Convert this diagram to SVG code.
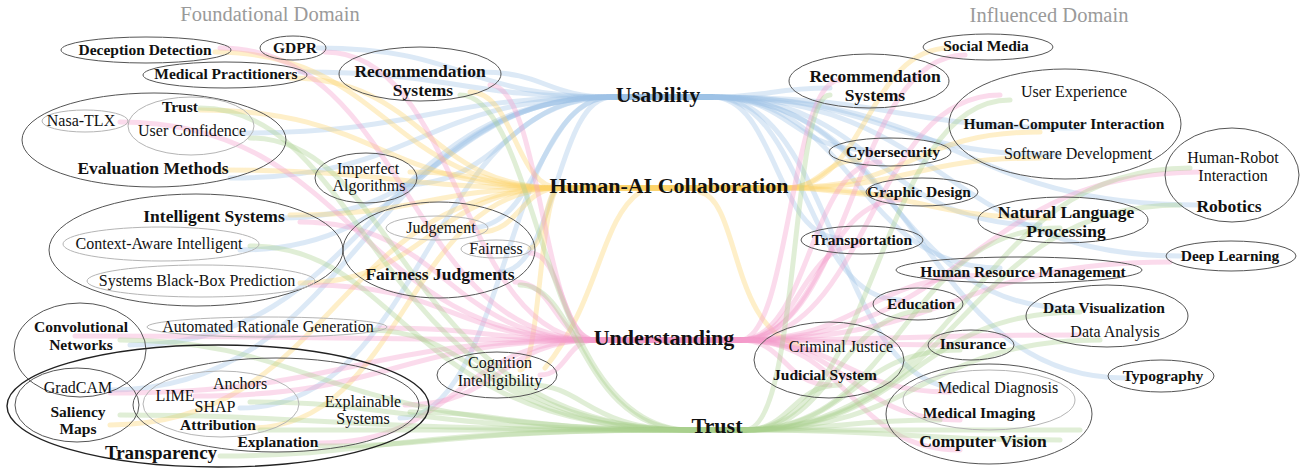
<svg xmlns="http://www.w3.org/2000/svg" width="1301" height="470" viewBox="0 0 1301 470">
<style>
text{font-family:"Liberation Serif",serif;fill:#111;text-anchor:middle}
.b{font-weight:bold;font-size:15.5px}
.r{font-size:16px}
.g{font-weight:bold;font-size:17.5px}
.c{font-weight:bold;font-size:22px}
.ttl{font-size:20.5px;fill:#9a9a9a}
.e{fill:none;stroke:#555;stroke-width:1}
.i{fill:none;stroke:#b5b5b5;stroke-width:1}
#connectors path{fill:none;stroke-width:5;stroke-linecap:round;opacity:.36}
.u{stroke:#9ec3e6}
.h{stroke:#fcd26a}
.n{stroke:#f59acb}
.t{stroke:#a9d18e}
</style>
<rect width="1301" height="470" fill="#fff"/>
<g id="connectors">
<path class="u" d="M318 48C465 48 465 97 612 97H712"/>
<path class="u" d="M300 72C456 72 456 97 612 97H712"/>
<path class="u" d="M480 72C546 72 546 97 612 97H712"/>
<path class="u" d="M240 133C426 133 426 97 612 97H712"/>
<path class="u" d="M230 178C421 178 421 97 612 97H712"/>
<path class="u" d="M400 185C506 185 506 97 612 97H712"/>
<path class="u" d="M280 218C446 218 446 97 612 97H712"/>
<path class="u" d="M240 250C426 250 426 97 612 97H712"/>
<path class="u" d="M470 228C541 228 541 97 612 97H712"/>
<path class="u" d="M500 272C556 272 556 97 612 97H712"/>
<path class="u" d="M130 345C371 345 371 97 612 97H712"/>
<path class="u" d="M110 390C361 390 361 97 612 97H712"/>
<path class="u" d="M240 408C426 408 426 97 612 97H712"/>
<path class="u" d="M400 418C506 418 506 97 612 97H712"/>
<path class="u" d="M662 97H712C771 97 771 88 830 88"/>
<path class="u" d="M662 97H712C896 97 896 128 1080 128"/>
<path class="u" d="M662 97H712C886 97 886 155 1060 155"/>
<path class="u" d="M662 97H712C791 97 791 150 870 150"/>
<path class="u" d="M662 97H712C956 97 956 205 1200 205"/>
<path class="u" d="M662 97H712C876 97 876 225 1040 225"/>
<path class="u" d="M662 97H712C776 97 776 238 840 238"/>
<path class="u" d="M662 97H712C946 97 946 256 1180 256"/>
<path class="u" d="M662 97H712C856 97 856 268 1000 268"/>
<path class="u" d="M662 97H712C806 97 806 300 900 300"/>
<path class="u" d="M662 97H712C891 97 891 308 1070 308"/>
<path class="u" d="M662 97H712C918 97 918 378 1125 378"/>
<path class="u" d="M662 97H712C836 97 836 388 960 388"/>
<path class="h" d="M215 52C387 52 387 188 560 188H785"/>
<path class="h" d="M290 78C425 78 425 188 560 188H785"/>
<path class="h" d="M470 92C515 92 515 188 560 188H785"/>
<path class="h" d="M200 110C380 110 380 188 560 188H785"/>
<path class="h" d="M220 170C390 170 390 188 560 188H785"/>
<path class="h" d="M410 172C485 172 485 188 560 188H785"/>
<path class="h" d="M290 215C425 215 425 188 560 188H785"/>
<path class="h" d="M300 283C430 283 430 188 560 188H785"/>
<path class="h" d="M480 232C520 232 520 188 560 188H785"/>
<path class="h" d="M530 248C545 248 545 188 560 188H785"/>
<path class="h" d="M520 370C540 370 540 188 560 188H785"/>
<path class="h" d="M110 425C335 425 335 188 560 188H785"/>
<path class="h" d="M250 428C405 428 405 188 560 188H785"/>
<path class="h" d="M640 192C600 220 600 300 545 368"/>
<path class="h" d="M672 188H785C867 188 867 48 950 48"/>
<path class="h" d="M672 188H785C912 188 912 132 1040 132"/>
<path class="h" d="M672 188H785C912 188 912 158 1040 158"/>
<path class="h" d="M672 188H785C822 188 822 160 860 160"/>
<path class="h" d="M672 188H785C837 188 837 195 890 195"/>
<path class="h" d="M672 188H785C917 188 917 218 1050 218"/>
<path class="h" d="M700 192C740 200 730 330 800 345"/>
<path class="n" d="M220 48C407 48 407 340 595 340H740"/>
<path class="n" d="M325 52C460 52 460 340 595 340H740"/>
<path class="n" d="M490 85C542 85 542 340 595 340H740"/>
<path class="n" d="M120 122C357 122 357 340 595 340H740"/>
<path class="n" d="M300 222C447 222 447 340 595 340H740"/>
<path class="n" d="M310 285C452 285 452 340 595 340H740"/>
<path class="n" d="M530 253C562 253 562 340 595 340H740"/>
<path class="n" d="M515 282C555 282 555 340 595 340H740"/>
<path class="n" d="M75 336C335 336 335 340 595 340H740"/>
<path class="n" d="M380 328C487 328 487 340 595 340H740"/>
<path class="n" d="M540 375C567 375 567 340 595 340H740"/>
<path class="n" d="M110 393C352 393 352 340 595 340H740"/>
<path class="n" d="M195 396C395 396 395 340 595 340H740"/>
<path class="n" d="M405 405C500 405 500 340 595 340H740"/>
<path class="n" d="M320 443C457 443 457 340 595 340H740"/>
<path class="n" d="M664 340H740C852 340 852 55 965 55"/>
<path class="n" d="M664 340H740C790 340 790 80 840 80"/>
<path class="n" d="M664 340H740C870 340 870 95 1000 95"/>
<path class="n" d="M664 340H740C810 340 810 162 880 162"/>
<path class="n" d="M664 340H740C970 340 970 172 1200 172"/>
<path class="n" d="M664 340H740C820 340 820 200 900 200"/>
<path class="n" d="M664 340H740C800 340 800 245 860 245"/>
<path class="n" d="M664 340H740C955 340 955 262 1170 262"/>
<path class="n" d="M664 340H740C865 340 865 275 990 275"/>
<path class="n" d="M664 340H740C910 340 910 335 1080 335"/>
<path class="n" d="M664 340H740C780 340 780 350 820 350"/>
<path class="n" d="M664 340H740C785 340 785 385 830 385"/>
<path class="n" d="M664 340H740C845 340 845 345 950 345"/>
<path class="n" d="M664 340H740C845 340 845 392 950 392"/>
<path class="n" d="M664 340H740C850 340 850 420 960 420"/>
<path class="n" d="M664 340H740C850 340 850 450 960 450"/>
<path class="t" d="M200 108C371 108 372 430 690 430H745"/>
<path class="t" d="M250 138C404 138 404 430 690 430H745"/>
<path class="t" d="M460 95C540 95 540 430 690 430H745"/>
<path class="t" d="M250 246C404 246 404 430 690 430H745"/>
<path class="t" d="M520 285C580 285 580 430 690 430H745"/>
<path class="t" d="M120 340C320 340 320 430 690 430H745"/>
<path class="t" d="M370 330C482 330 482 430 690 430H745"/>
<path class="t" d="M530 385C586 385 586 430 690 430H745"/>
<path class="t" d="M120 415C320 415 320 430 690 430H745"/>
<path class="t" d="M250 402C404 402 404 430 690 430H745"/>
<path class="t" d="M260 430H745"/>
<path class="t" d="M410 412C508 412 508 430 690 430H745"/>
<path class="t" d="M320 446C450 446 450 430 690 430H745"/>
<path class="t" d="M220 456C380 456 380 430 690 430H745"/>
<path class="t" d="M717 430H745C800 430 790 95 830 95"/>
<path class="t" d="M717 430H745C877 430 877 100 1010 100"/>
<path class="t" d="M717 430H745C967 430 967 168 1190 168"/>
<path class="t" d="M717 430H745C962 430 962 205 1180 205"/>
<path class="t" d="M717 430H745C902 430 902 228 1060 228"/>
<path class="t" d="M717 430H745C837 430 837 310 930 310"/>
<path class="t" d="M717 430H745C912 430 912 312 1080 312"/>
<path class="t" d="M717 430H745C922 430 922 340 1100 340"/>
<path class="t" d="M717 430H745C792 430 792 385 840 385"/>
<path class="t" d="M717 430H745C852 430 852 350 960 350"/>
<path class="t" d="M717 430H745C842 430 842 420 940 420"/>
<path class="t" d="M717 430H745C902 430 902 440 1060 440"/>
<path class="t" d="M717 430H1080"/>
</g>

<text class="ttl" x="270" y="21">Foundational Domain</text>
<text class="ttl" x="1049" y="22">Influenced Domain</text>

<g id="deception-detection"><ellipse class="e" cx="146" cy="50" rx="85" ry="13"/><text class="b" x="145" y="55">Deception Detection</text></g>
<g id="gdpr"><ellipse class="e" cx="293" cy="48" rx="33" ry="12"/><text class="b" x="295" y="53">GDPR</text></g>
<g id="medical-practitioners"><ellipse class="e" cx="225" cy="75" rx="82" ry="13"/><text class="b" x="226" y="79">Medical Practitioners</text></g>
<g id="recommendation-systems-left"><ellipse class="e" cx="420" cy="74" rx="81" ry="27"/><text class="g" x="420" y="77">Recommendation</text><text class="g" x="423" y="96">Systems</text></g>
<g id="evaluation-methods"><ellipse class="e" cx="154" cy="140" rx="132" ry="47"/><text class="g" x="153" y="174">Evaluation Methods</text></g>
<g id="nasa-tlx"><ellipse class="i" cx="85" cy="121" rx="43" ry="11"/><text class="r" x="81" y="126">Nasa-TLX</text></g>
<g id="trust-user-confidence"><ellipse class="i" cx="191" cy="126" rx="63" ry="29"/><text class="b" x="180" y="112">Trust</text><text class="r" x="192" y="136">User Confidence</text></g>
<g id="imperfect-algorithms"><ellipse class="e" cx="366" cy="178" rx="51" ry="25"/><text class="r" x="368" y="174">Imperfect</text><text class="r" x="369" y="191">Algorithms</text></g>
<g id="intelligent-systems"><ellipse class="e" cx="196" cy="250" rx="147" ry="56"/><text class="g" x="214" y="222">Intelligent Systems</text></g>
<g id="context-aware"><ellipse class="i" cx="161" cy="244" rx="98" ry="17"/><text class="r" x="159" y="249">Context-Aware Intelligent</text></g>
<g id="black-box"><ellipse class="i" cx="201" cy="281" rx="114" ry="16"/><text class="r" x="197" y="286">Systems Black-Box Prediction</text></g>
<g id="fairness-judgments"><ellipse class="e" cx="439" cy="250" rx="96" ry="48"/><text class="g" x="440" y="280">Fairness Judgments</text></g>
<g id="judgement"><ellipse class="i" cx="437" cy="228" rx="51" ry="12"/><text class="r" x="441" y="233">Judgement</text></g>
<g id="fairness"><ellipse class="i" cx="496" cy="249" rx="35" ry="9"/><text class="r" x="496" y="254">Fairness</text></g>
<g id="convolutional-networks"><ellipse class="e" cx="80" cy="350" rx="66" ry="47"/><text class="b" x="81" y="332">Convolutional</text><text class="b" x="81" y="350">Networks</text></g>
<g id="automated-rationale"><ellipse class="i" cx="267" cy="327" rx="120" ry="10"/><text class="r" x="268" y="332">Automated Rationale Generation</text></g>
<g id="cognition-intelligibility"><ellipse class="e" cx="497" cy="375" rx="60" ry="23"/><text class="r" x="500" y="368">Cognition</text><text class="r" x="500" y="386">Intelligibility</text></g>
<g id="transparency"><ellipse cx="218" cy="406" rx="211" ry="61" fill="none" stroke="#222" stroke-width="1.4"/><text class="g" x="161" y="459" style="font-size:19px">Transparency</text></g>
<g id="saliency-maps"><ellipse class="e" cx="77" cy="405" rx="62" ry="37"/><text class="r" x="78" y="393">GradCAM</text><text class="b" x="78" y="417">Saliency</text><text class="b" x="78" y="434">Maps</text></g>
<g id="explanation"><ellipse class="e" cx="276" cy="405" rx="143" ry="47"/><text class="r" x="363" y="407">Explainable</text><text class="r" x="363" y="424">Systems</text><text class="b" x="278" y="447">Explanation</text></g>
<g id="attribution"><ellipse class="i" cx="221" cy="404" rx="78" ry="33"/><text class="r" x="175" y="401">LIME</text><text class="r" x="240" y="389">Anchors</text><text class="r" x="215" y="412">SHAP</text><text class="b" x="218" y="430">Attribution</text></g>

<g id="usability"><text class="c" x="658" y="102">Usability</text></g>
<g id="human-ai-collaboration"><text class="c" x="669" y="193">Human-AI Collaboration</text></g>
<g id="understanding"><text class="c" x="664" y="345">Understanding</text></g>
<g id="trust"><text class="c" x="717" y="433">Trust</text></g>

<g id="social-media"><ellipse class="e" cx="988" cy="47" rx="65" ry="13"/><text class="b" x="986" y="51">Social Media</text></g>
<g id="recommendation-systems-right"><ellipse class="e" cx="869" cy="81" rx="80" ry="27"/><text class="g" x="875" y="82">Recommendation</text><text class="g" x="875" y="101">Systems</text></g>
<g id="hci"><ellipse class="e" cx="1065" cy="124" rx="116" ry="55"/><text class="r" x="1074" y="97">User Experience</text><text class="b" x="1064" y="129">Human-Computer Interaction</text><text class="r" x="1078" y="159">Software Development</text></g>
<g id="cybersecurity"><ellipse class="e" cx="890" cy="152" rx="61" ry="14"/><text class="b" x="893" y="157">Cybersecurity</text></g>
<g id="robotics"><ellipse class="e" cx="1232" cy="175" rx="67" ry="47"/><text class="r" x="1233" y="163">Human-Robot</text><text class="r" x="1233" y="181">Interaction</text><text class="g" x="1229" y="212">Robotics</text></g>
<g id="graphic-design"><ellipse class="e" cx="922" cy="192" rx="56" ry="14"/><text class="b" x="919" y="197">Graphic Design</text></g>
<g id="nlp"><ellipse class="e" cx="1063" cy="220" rx="85" ry="23"/><text class="g" x="1066" y="218">Natural Language</text><text class="g" x="1066" y="237">Processing</text></g>
<g id="transportation"><ellipse class="e" cx="862" cy="240" rx="61" ry="14"/><text class="b" x="862" y="245">Transportation</text></g>
<g id="deep-learning"><ellipse class="e" cx="1231" cy="256" rx="65" ry="15"/><text class="b" x="1230" y="261">Deep Learning</text></g>
<g id="hrm"><ellipse class="e" cx="1019" cy="270" rx="123" ry="13"/><text class="b" x="1023" y="277">Human Resource Management</text></g>
<g id="education"><ellipse class="e" cx="918" cy="304" rx="45" ry="16"/><text class="b" x="921" y="309">Education</text></g>
<g id="data-visualization"><ellipse class="e" cx="1107" cy="316" rx="81" ry="31"/><text class="b" x="1104" y="313">Data Visualization</text><text class="r" x="1115" y="337">Data Analysis</text></g>
<g id="judicial-system"><ellipse class="e" cx="829" cy="360" rx="75" ry="38"/><text class="r" x="841" y="352">Criminal Justice</text><text class="b" x="825" y="380">Judicial System</text></g>
<g id="insurance"><ellipse class="e" cx="971" cy="345" rx="43" ry="15"/><text class="b" x="973" y="349">Insurance</text></g>
<g id="typography"><ellipse class="e" cx="1161" cy="376" rx="53" ry="16"/><text class="b" x="1163" y="381">Typography</text></g>
<g id="computer-vision"><ellipse class="e" cx="989" cy="414" rx="103" ry="50"/><text class="g" x="983" y="447">Computer Vision</text></g>
<g id="medical-imaging"><ellipse class="i" cx="989" cy="400" rx="86" ry="30"/><text class="r" x="998" y="393">Medical Diagnosis</text><text class="b" x="979" y="418">Medical Imaging</text></g>
</svg>
